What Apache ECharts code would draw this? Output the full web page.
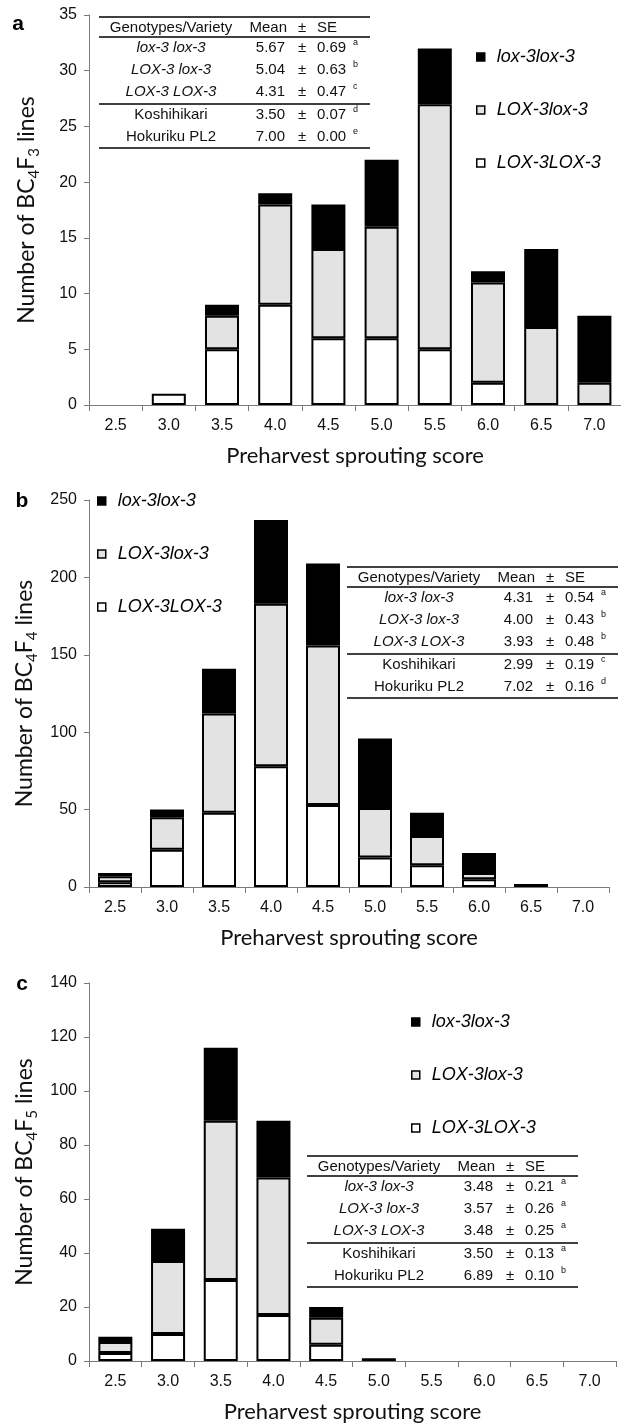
<!DOCTYPE html>
<html>
<head>
<meta charset="utf-8">
<script src="https://cdn.jsdelivr.net/npm/echarts@6/dist/echarts.min.js"></script>
<style>
html,body{margin:0;padding:0;background:#fff;}
#chart{width:621px;height:1426px;}
</style>
</head>
<body>
<div id="chart"></div>
<script>
// ---------- DATA ----------
const categories = ['2.5','3.0','3.5','4.0','4.5','5.0','5.5','6.0','6.5','7.0'];
const seriesNames = ['LOX-3LOX-3','LOX-3lox-3','lox-3lox-3']; // stacking order bottom -> top
const legendOrder = ['lox-3lox-3','LOX-3lox-3','LOX-3LOX-3'];

// Panel a (BC4F3)
const aLOXLOX = [0,1,5,9,6,6,5,2,0,0];
const aLOXlox = [0,0,3,9,8,10,22,9,7,2];
const aloxlox = [0,0,1,1,4,6,5,1,7,6];
// Panel b (BC4F4)
const bLOXLOX = [3,24,48,78,53,19,14,5,0,0];
const bLOXlox = [4,21,64,105,103,32,19,4,0,0];
const bloxlox = [2,5,29,54,53,45,15,13,2,0];
// Panel c (BC4F5)
const cLOXLOX = [3,10,30,17,6,0,0,0,0,0];
const cLOXlox = [4,27,59,51,10,0,0,0,0,0];
const cloxlox = [2,12,27,21,4,1,0,0,0,0];

const yMaxes = [35,250,140];
const yIntervals = [5,50,20];
const panelLetters = ['a','b','c'];
const yNameSubs = [['4','3'],['4','4'],['4','5']];

// Tables
const tableGenotypes = ['lox-3 lox-3','LOX-3 lox-3','LOX-3 LOX-3','Koshihikari','Hokuriku PL2'];
const tableHeader = ['Genotypes/Variety','Mean','\u00b1','SE'];
const aMeans = ['5.67','5.04','4.31','3.50','7.00'];
const aSE = ['0.69','0.63','0.47','0.07','0.00'];
const aLetters = ['a','b','c','d','e'];
const bMeans = ['4.31','4.00','3.93','2.99','7.02'];
const bSE = ['0.54','0.43','0.48','0.19','0.16'];
const bLetters = ['a','b','b','c','d'];
const cMeans = ['3.48','3.57','3.48','3.50','6.89'];
const cSE = ['0.21','0.26','0.25','0.13','0.10'];
const cLetters = ['a','a','a','a','b'];

// ---------- LAYOUT ----------
const panelData = [
  [aLOXLOX,aLOXlox,aloxlox],
  [bLOXLOX,bLOXlox,bloxlox],
  [cLOXLOX,cLOXlox,cloxlox]
];
const tables = [
  {means:aMeans, se:aSE, letters:aLetters},
  {means:bMeans, se:bSE, letters:bLetters},
  {means:cMeans, se:cSE, letters:cLetters}
];
const grids = [
  {left:89, top:15, width:538, height:390},
  {left:89, top:500, width:520, height:387},
  {left:89, top:983, width:527, height:378}
];
const tablePos = [{L:99,T:17},{L:347,T:567},{L:307,T:1156}];
const legendPos = [{left:476,top:48},{left:97,top:492},{left:411,top:1013}];
const letterPos = [{x:18,y:24},{x:22,y:501},{x:22,y:984}];
const colors = ['#ffffff','#e2e3e2','#000000'];
const axisGray = '#7a7a7a';
const tickFont = 'Liberation Sans, Arial, sans-serif';
const titleFont = 'Lato, Open Sans, sans-serif';

const xAxes = [], yAxes = [], series = [], legends = [], graphics = [];

grids.forEach((g,p)=>{
  xAxes.push({
    type:'category', gridIndex:p, data:categories,
    axisLine:{lineStyle:{color:axisGray,width:1}},
    axisTick:{show:true,length:6,lineStyle:{color:axisGray},alignWithLabel:false},
    axisLabel:{color:'#111',fontSize:16,fontFamily:tickFont,margin:13},
    name:'Preharvest sprouting score', nameLocation:'middle', nameGap:40,
    nameTextStyle:{fontFamily:titleFont,fontSize:22,color:'#111'}
  });
  yAxes.push({
    type:'value', gridIndex:p, min:0, max:yMaxes[p], interval:yIntervals[p],
    splitLine:{show:false},
    axisLine:{show:true,lineStyle:{color:axisGray,width:1}},
    axisTick:{show:true,length:5,lineStyle:{color:axisGray}},
    axisLabel:{color:'#111',fontSize:16,fontFamily:tickFont,margin:12},
    name:'Number of BC{s|'+yNameSubs[p][0]+'}F{s|'+yNameSubs[p][1]+'} lines',
    nameLocation:'middle', nameRotate:90, nameGap:47,
    nameTextStyle:{fontFamily:titleFont,fontSize:23,color:'#111',lineHeight:30,
      rich:{s:{fontFamily:titleFont,fontSize:15,lineHeight:16,verticalAlign:'bottom',color:'#111'}}}
  });
  seriesNames.forEach((nm,k)=>{
    series.push({
      type:'bar', name:nm, xAxisIndex:p, yAxisIndex:p, stack:'s'+p,
      barWidth:34,
      itemStyle:{color:colors[k],borderColor:'#000',borderWidth:2},
      emphasis:{disabled:true},
      data:panelData[p][k].map(v=> v===0 ? {value:0,itemStyle:{borderWidth:0}} : v)
    });
  });
  legends.push({
    data:legendOrder, orient:'vertical', left:legendPos[p].left, top:legendPos[p].top,
    icon:'rect', itemWidth:8, itemHeight:8, itemGap:35, padding:0, selectedMode:false,
    itemStyle:{borderWidth:1.5,borderColor:'#000'},
    textStyle:{fontSize:18,fontStyle:'italic',fontFamily:tickFont,color:'#000',padding:[0,0,0,7]}
  });
  // panel letter
  graphics.push({type:'text', x:letterPos[p].x, y:letterPos[p].y,
    style:{text:panelLetters[p], font:'bold 21px Liberation Sans, Arial, sans-serif', fill:'#000', align:'center', verticalAlign:'middle'}});
  // table
  const L = tablePos[p].L, T = tablePos[p].T, W = 271;
  const tf = 'Liberation Sans, Arial, sans-serif';
  [0,20,87,131].forEach(dy=>{
    graphics.push({type:'line', shape:{x1:L,y1:T+dy,x2:L+W,y2:T+dy}, style:{stroke:'#000',lineWidth:1.5}});
  });
  const hy = T+11;
  const txt = (x,y,t,align,extra)=>Object.assign({type:'text',x:x,y:y,
     style:Object.assign({text:t,fontSize:15,fontFamily:tf,fill:'#111',align:align,verticalAlign:'middle'},extra||{})});
  graphics.push(txt(L+72,hy,tableHeader[0],'center'));
  graphics.push(txt(L+188,hy,tableHeader[1],'right'));
  graphics.push(txt(L+203,hy,tableHeader[2],'center'));
  graphics.push(txt(L+218,hy,tableHeader[3],'left'));
  const rowY = [31,53,75,98,120];
  const tb = tables[p];
  tableGenotypes.forEach((gname,i)=>{
    const y = T+rowY[i];
    graphics.push(txt(L+72,y,gname,'center', i<3?{fontStyle:'italic'}:{}));
    graphics.push(txt(L+186,y,tb.means[i],'right'));
    graphics.push(txt(L+203,y,'\u00b1','center'));
    graphics.push(txt(L+218,y,tb.se[i],'left'));
    graphics.push(txt(L+254,y-5,tb.letters[i],'left',{fontSize:9}));
  });
});

const chart = echarts.init(document.getElementById('chart'), null, {renderer:'canvas'});
chart.setOption({
  animation:false,
  backgroundColor:'#fff',
  grid:grids,
  xAxis:xAxes,
  yAxis:yAxes,
  legend:legends,
  series:series,
  graphic:graphics
});
</script>
</body>
</html>
